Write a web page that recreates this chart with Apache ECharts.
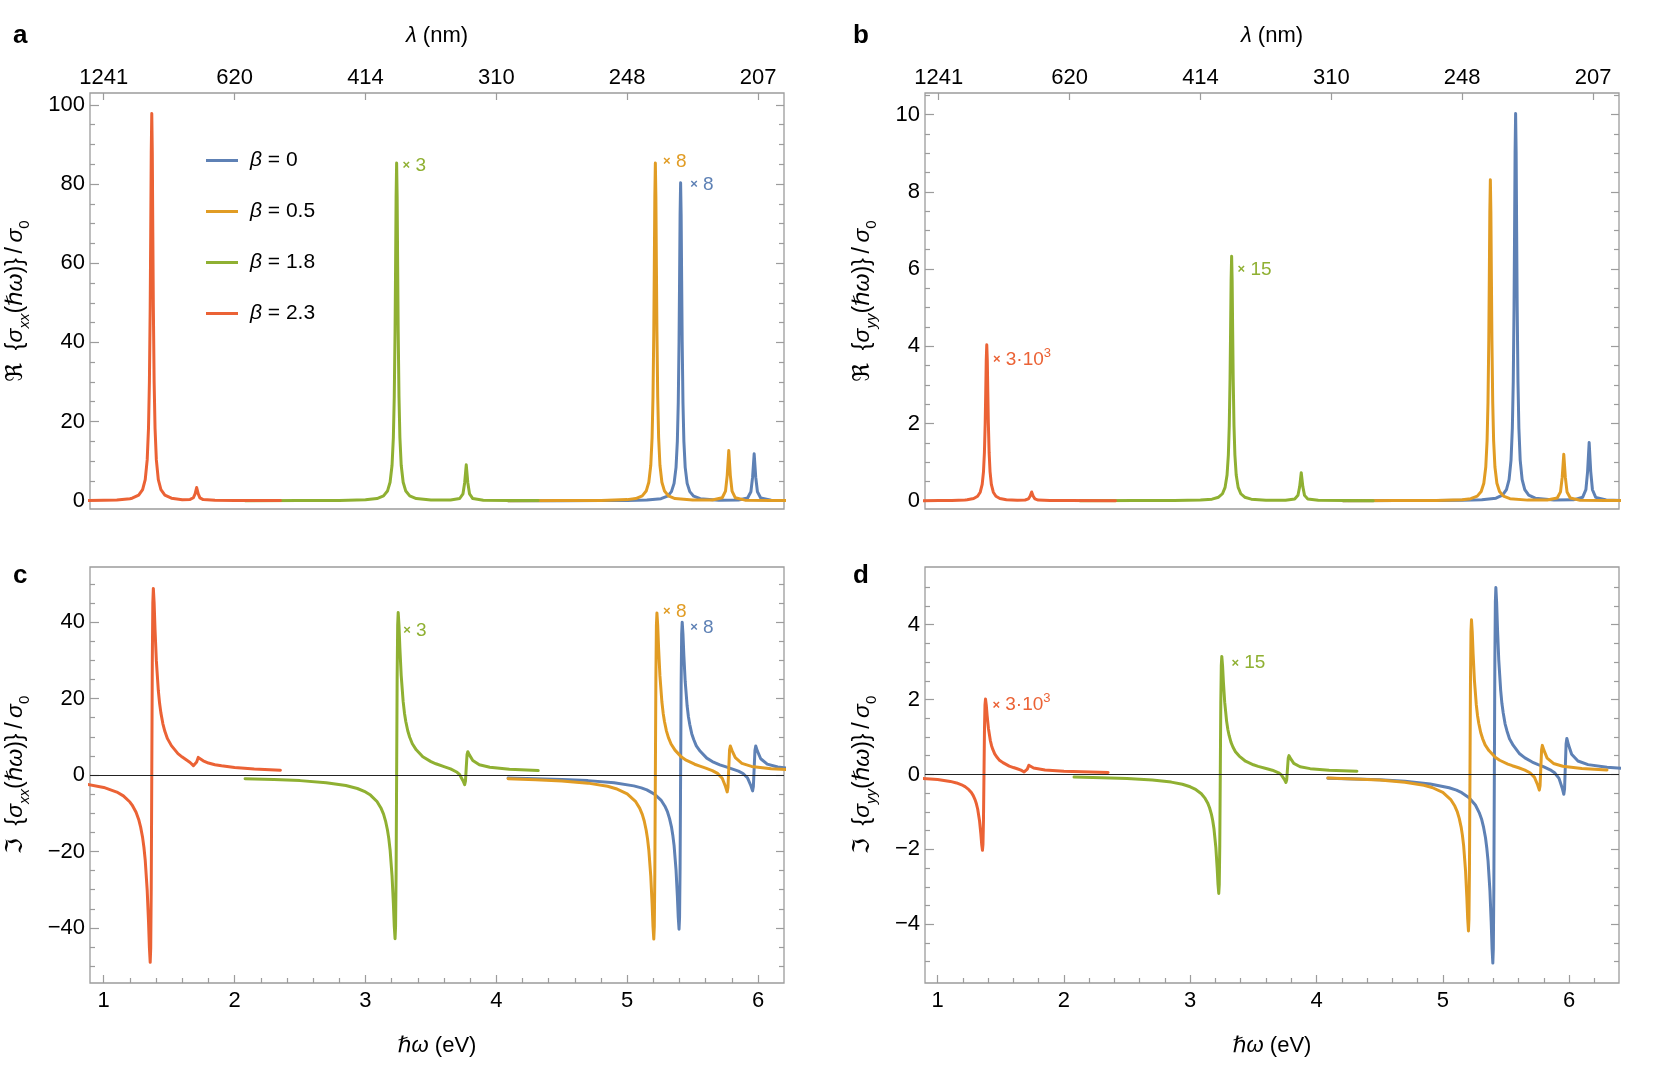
<!DOCTYPE html>
<html>
<head>
<meta charset="utf-8">
<script src="https://cdn.jsdelivr.net/npm/echarts@6/dist/echarts.min.js"></script>
<style>
  html, body { margin: 0; padding: 0; background: #fff; }
  #main { width: 1661px; height: 1078px; }
</style>
</head>
<body>
<div id="main"></div>
<script>
// ---- data ----
var names = ['β = 0', 'β = 0.5', 'β = 1.8', 'β = 2.3'];
var colors = ['#5E81B5', '#E19C24', '#8FB032', '#EB6235'];

// axis ticks
var energyTicks = [1, 2, 3, 4, 5, 6];
var energyMinor = [1.2, 1.4, 1.6, 1.8, 2.2, 2.4, 2.6, 2.8, 3.2, 3.4, 3.6, 3.8, 4.2, 4.4, 4.6, 4.8, 5.2, 5.4, 5.6, 5.8, 6.2];
var lambdaLabels = ['1241', '620', '414', '310', '248', '207'];
var reXxTicks = [0, 20, 40, 60, 80, 100];
var reXxMinor = [5, 10, 15, 25, 30, 35, 45, 50, 55, 65, 70, 75, 85, 90, 95];
var reYyTicks = [0, 2, 4, 6, 8, 10];
var reYyMinor = [0.5, 1, 1.5, 2.5, 3, 3.5, 4.5, 5, 5.5, 6.5, 7, 7.5, 8.5, 9, 9.5, 10.5];
var imXxTicks = [-40, -20, 0, 20, 40];
var imXxMinor = [-50, -45, -35, -30, -25, -15, -10, -5, 5, 10, 15, 25, 30, 35, 45, 50];
var imYyTicks = [-4, -2, 0, 2, 4];
var imYyMinor = [-5, -4.5, -3.5, -3, -2.5, -1.5, -1, -0.5, 0.5, 1, 1.5, 2.5, 3, 3.5, 4.5, 5];

// panel a: Re sigma_xx
var reXxB0 = [[4.09,0.01],[4.5,0.01],[4.8,0.03],[5.0,0.07],[5.15,0.17],[5.258,0.51],[5.308,1.14],[5.338,2.29],[5.358,4.38],[5.373,8.43],[5.383,15.0],[5.39,24.7],[5.396,40.15],[5.4,55.6],[5.404,72.3],[5.408,80.3],[5.412,72.3],[5.416,55.6],[5.42,40.15],[5.426,24.7],[5.433,15.0],[5.443,8.43],[5.458,4.38],[5.478,2.29],[5.508,1.14],[5.558,0.51],[5.7,0.14],[5.85,0.18],[5.92,0.69],[5.945,2.26],[5.958,5.95],[5.97,11.85],[5.982,5.95],[5.995,2.25],[6.02,0.68],[6.1,0.13],[6.25,0.04],[6.45,0.02]];
var reXxB05 = [[4.09,0.01],[4.5,0.02],[4.8,0.07],[5.0,0.27],[5.065,0.54],[5.115,1.21],[5.145,2.43],[5.165,4.65],[5.18,8.96],[5.19,15.95],[5.197,26.3],[5.203,42.65],[5.207,59.0],[5.211,76.8],[5.215,85.3],[5.219,76.8],[5.223,59.0],[5.227,42.65],[5.233,26.3],[5.24,15.95],[5.25,8.96],[5.265,4.65],[5.285,2.43],[5.315,1.21],[5.365,0.54],[5.5,0.15],[5.65,0.18],[5.726,0.74],[5.751,2.41],[5.764,6.35],[5.776,12.65],[5.788,6.35],[5.801,2.4],[5.826,0.73],[5.9,0.14],[6.1,0.03],[6.35,0.02]];
var reXxB18 = [[2.08,0.01],[2.5,0.02],[2.8,0.06],[3.0,0.22],[3.088,0.54],[3.138,1.21],[3.168,2.43],[3.188,4.65],[3.203,8.96],[3.213,15.95],[3.22,26.3],[3.226,42.65],[3.23,59.0],[3.234,76.8],[3.238,85.3],[3.242,76.8],[3.246,59.0],[3.25,42.65],[3.256,26.3],[3.263,15.95],[3.273,8.96],[3.288,4.65],[3.308,2.43],[3.338,1.21],[3.388,0.54],[3.5,0.18],[3.65,0.16],[3.72,0.55],[3.745,1.73],[3.758,4.55],[3.77,9.05],[3.782,4.55],[3.795,1.73],[3.82,0.53],[3.9,0.11],[4.1,0.03],[4.32,0.02]];
var reXxB23 = [[0.85,0.05],[1.0,0.1],[1.1,0.2],[1.2,0.5],[1.217,0.62],[1.267,1.39],[1.297,2.79],[1.317,5.33],[1.332,10.3],[1.342,18.3],[1.349,30.1],[1.355,48.9],[1.359,67.7],[1.363,88.0],[1.367,97.8],[1.371,88.0],[1.375,67.7],[1.379,48.9],[1.385,30.1],[1.392,18.3],[1.402,10.3],[1.417,5.33],[1.437,2.79],[1.467,1.39],[1.517,0.62],[1.6,0.26],[1.66,0.33],[1.685,0.74],[1.698,1.73],[1.71,3.32],[1.722,1.72],[1.735,0.71],[1.76,0.27],[1.85,0.08],[2.0,0.04],[2.35,0.02]];

// panel b: Re sigma_yy
var reYyB0 = [[4.09,0.001],[4.5,0.002],[4.8,0.004],[5.0,0.009],[5.15,0.022],[5.258,0.064],[5.308,0.142],[5.338,0.286],[5.358,0.547],[5.373,1.053],[5.383,1.876],[5.39,3.09],[5.396,5.015],[5.4,6.94],[5.404,9.03],[5.408,10.03],[5.412,9.03],[5.416,6.94],[5.42,5.015],[5.426,3.09],[5.433,1.876],[5.443,1.053],[5.458,0.547],[5.478,0.286],[5.508,0.142],[5.558,0.064],[5.7,0.017],[5.85,0.022],[5.92,0.088],[5.945,0.285],[5.958,0.755],[5.97,1.505],[5.982,0.755],[5.995,0.284],[6.02,0.086],[6.1,0.017],[6.25,0.005],[6.45,0.002]];
var reYyB05 = [[4.09,0.001],[4.5,0.002],[4.8,0.007],[5.0,0.026],[5.065,0.053],[5.115,0.118],[5.145,0.237],[5.165,0.453],[5.18,0.873],[5.19,1.554],[5.197,2.56],[5.203,4.155],[5.207,5.75],[5.211,7.48],[5.215,8.31],[5.219,7.48],[5.223,5.75],[5.227,4.155],[5.233,2.56],[5.24,1.554],[5.25,0.873],[5.265,0.453],[5.285,0.237],[5.315,0.118],[5.365,0.053],[5.5,0.015],[5.65,0.017],[5.726,0.07],[5.751,0.228],[5.764,0.603],[5.776,1.203],[5.788,0.603],[5.801,0.227],[5.826,0.068],[5.9,0.014],[6.1,0.003],[6.35,0.001]];
var reYyB18 = [[2.08,0.001],[2.5,0.002],[2.8,0.005],[3.0,0.016],[3.088,0.04],[3.138,0.09],[3.168,0.18],[3.188,0.345],[3.203,0.665],[3.213,1.184],[3.22,1.95],[3.226,3.165],[3.23,4.38],[3.234,5.7],[3.238,6.33],[3.242,5.7],[3.246,4.38],[3.25,3.165],[3.256,1.95],[3.263,1.184],[3.273,0.665],[3.288,0.345],[3.308,0.18],[3.338,0.09],[3.388,0.04],[3.5,0.013],[3.65,0.012],[3.72,0.043],[3.745,0.139],[3.758,0.364],[3.77,0.724],[3.782,0.364],[3.795,0.138],[3.82,0.042],[3.9,0.01],[4.1,0.002],[4.32,0.001]];
var reYyB23 = [[0.85,0.0],[1.0,0.004],[1.1,0.008],[1.2,0.021],[1.217,0.026],[1.267,0.057],[1.297,0.115],[1.317,0.22],[1.332,0.424],[1.342,0.755],[1.349,1.244],[1.355,2.02],[1.359,2.796],[1.363,3.636],[1.367,4.04],[1.371,3.636],[1.375,2.796],[1.379,2.02],[1.385,1.244],[1.392,0.755],[1.402,0.424],[1.417,0.22],[1.437,0.115],[1.467,0.057],[1.517,0.026],[1.6,0.011],[1.66,0.019],[1.685,0.047],[1.698,0.115],[1.71,0.225],[1.722,0.115],[1.735,0.046],[1.76,0.016],[1.85,0.004],[2.0,0.002],[2.35,0.001]];

// panel c: Im sigma_xx
var imXxB0 = [[4.09,-0.81],[4.3,-0.96],[4.5,-1.16],[4.7,-1.47],[4.9,-2.03],[5.05,-2.84],[5.108,-3.37],[5.15,-3.9],[5.208,-4.99],[5.258,-6.55],[5.288,-8.16],[5.308,-9.66],[5.323,-11.33],[5.338,-13.55],[5.348,-15.67],[5.358,-18.41],[5.373,-24.83],[5.383,-31.5],[5.39,-37.24],[5.396,-40.33],[5.4,-37.24],[5.404,-24.27],[5.408,-0.19],[5.412,23.9],[5.416,36.87],[5.42,39.96],[5.426,36.87],[5.433,31.13],[5.443,24.46],[5.458,18.04],[5.468,15.16],[5.478,13.18],[5.493,10.81],[5.508,9.29],[5.528,7.63],[5.558,6.19],[5.608,4.41],[5.65,3.53],[5.708,2.66],[5.75,2.18],[5.8,1.62],[5.85,1.01],[5.885,0.39],[5.92,-0.8],[5.945,-2.81],[5.958,-4.15],[5.964,-2.98],[5.97,1.72],[5.976,6.42],[5.982,7.59],[5.995,6.24],[6.02,4.25],[6.07,2.85],[6.15,2.09],[6.3,1.51],[6.45,1.22]];
var imXxB05 = [[4.09,-1.0],[4.3,-1.22],[4.5,-1.55],[4.7,-2.13],[4.85,-2.96],[4.915,-3.58],[5.0,-4.94],[5.015,-5.3],[5.065,-6.99],[5.095,-8.66],[5.115,-10.3],[5.13,-12.04],[5.145,-14.44],[5.155,-16.64],[5.165,-19.61],[5.18,-26.44],[5.19,-33.53],[5.197,-39.63],[5.203,-42.91],[5.207,-39.63],[5.211,-25.85],[5.215,-0.27],[5.219,25.32],[5.223,39.1],[5.227,42.38],[5.233,39.1],[5.24,33.0],[5.25,25.92],[5.265,19.09],[5.275,16.1],[5.285,13.92],[5.3,11.49],[5.315,9.78],[5.335,8.1],[5.365,6.5],[5.415,4.68],[5.45,3.88],[5.515,2.82],[5.55,2.39],[5.6,1.8],[5.65,1.16],[5.69,0.42],[5.726,-0.86],[5.751,-3.0],[5.764,-4.43],[5.77,-3.19],[5.776,1.83],[5.782,6.6],[5.788,7.6],[5.801,6.4],[5.826,4.54],[5.876,3.04],[5.95,2.25],[6.1,1.63],[6.35,1.16]];
var imXxB18 = [[2.08,-0.95],[2.3,-1.16],[2.5,-1.47],[2.7,-2.0],[2.85,-2.76],[2.938,-3.53],[3.0,-4.43],[3.038,-5.25],[3.088,-6.94],[3.118,-8.61],[3.138,-10.24],[3.153,-11.98],[3.168,-14.37],[3.178,-16.58],[3.188,-19.54],[3.203,-26.37],[3.213,-33.45],[3.22,-39.55],[3.226,-42.83],[3.23,-39.55],[3.234,-25.77],[3.238,-0.18],[3.242,25.4],[3.246,39.2],[3.25,42.47],[3.256,39.19],[3.263,33.09],[3.273,26.0],[3.288,19.17],[3.298,16.17],[3.308,14.0],[3.323,11.57],[3.338,9.87],[3.358,8.18],[3.388,6.58],[3.438,4.77],[3.5,3.5],[3.538,2.94],[3.6,2.2],[3.65,1.59],[3.7,0.71],[3.72,0.08],[3.745,-1.49],[3.758,-2.53],[3.764,-1.64],[3.77,1.95],[3.776,5.3],[3.782,6.1],[3.795,5.2],[3.82,3.8],[3.87,2.68],[3.95,2.04],[4.1,1.52],[4.32,1.15]];
var imXxB23 = [[0.85,-2.32],[1.0,-3.25],[1.1,-4.46],[1.15,-5.46],[1.2,-7.07],[1.217,-7.86],[1.247,-9.76],[1.267,-11.63],[1.282,-13.63],[1.297,-16.37],[1.307,-18.9],[1.317,-22.3],[1.332,-30.1],[1.342,-38.2],[1.349,-45.2],[1.355,-49.0],[1.359,-45.2],[1.363,-29.4],[1.367,-0.1],[1.371,29.2],[1.375,45.0],[1.379,48.8],[1.385,45.0],[1.392,38.0],[1.402,29.9],[1.417,22.1],[1.427,18.68],[1.437,16.18],[1.452,13.39],[1.467,11.44],[1.487,9.51],[1.517,7.68],[1.567,5.58],[1.6,4.68],[1.63,3.98],[1.66,3.27],[1.685,2.44],[1.698,1.94],[1.71,3.42],[1.722,4.6],[1.735,4.3],[1.76,3.72],[1.8,3.13],[1.85,2.7],[1.9,2.4],[2.0,1.98],[2.15,1.59],[2.35,1.25]];

// panel d: Im sigma_yy
var imYyB0 = [[4.09,-0.101],[4.3,-0.12],[4.5,-0.145],[4.7,-0.184],[4.9,-0.253],[5.05,-0.355],[5.108,-0.421],[5.15,-0.487],[5.208,-0.624],[5.258,-0.817],[5.288,-1.019],[5.308,-1.206],[5.323,-1.415],[5.338,-1.692],[5.348,-1.958],[5.358,-2.3],[5.373,-3.102],[5.383,-3.935],[5.39,-4.652],[5.396,-5.038],[5.4,-4.652],[5.404,-3.032],[5.408,-0.023],[5.412,2.986],[5.416,4.606],[5.42,4.992],[5.426,4.606],[5.433,3.889],[5.443,3.056],[5.458,2.254],[5.468,1.893],[5.478,1.647],[5.493,1.351],[5.508,1.161],[5.528,0.953],[5.558,0.774],[5.608,0.551],[5.65,0.441],[5.708,0.331],[5.75,0.27],[5.8,0.202],[5.85,0.123],[5.885,0.044],[5.92,-0.105],[5.945,-0.361],[5.958,-0.531],[5.964,-0.383],[5.97,0.214],[5.976,0.812],[5.982,0.961],[5.995,0.791],[6.02,0.537],[6.07,0.359],[6.15,0.262],[6.3,0.19],[6.45,0.153]];
var imYyB05 = [[4.09,-0.097],[4.3,-0.119],[4.5,-0.15],[4.7,-0.207],[4.85,-0.289],[4.915,-0.349],[5.0,-0.48],[5.015,-0.516],[5.065,-0.681],[5.095,-0.844],[5.115,-1.002],[5.13,-1.172],[5.145,-1.406],[5.155,-1.621],[5.165,-1.909],[5.18,-2.575],[5.19,-3.266],[5.197,-3.86],[5.203,-4.18],[5.207,-3.86],[5.211,-2.518],[5.215,-0.026],[5.219,2.468],[5.223,3.81],[5.227,4.13],[5.233,3.81],[5.24,3.217],[5.25,2.527],[5.265,1.862],[5.275,1.569],[5.285,1.361],[5.3,1.12],[5.315,0.958],[5.335,0.79],[5.365,0.638],[5.415,0.457],[5.45,0.379],[5.515,0.277],[5.55,0.233],[5.6,0.178],[5.65,0.116],[5.69,0.046],[5.726,-0.077],[5.751,-0.282],[5.764,-0.418],[5.77,-0.3],[5.776,0.178],[5.782,0.657],[5.788,0.776],[5.801,0.641],[5.826,0.435],[5.876,0.293],[5.95,0.218],[6.1,0.157],[6.3,0.119]];
var imYyB18 = [[2.08,-0.071],[2.3,-0.087],[2.5,-0.11],[2.7,-0.149],[2.85,-0.205],[2.938,-0.263],[3.0,-0.33],[3.038,-0.391],[3.088,-0.515],[3.118,-0.64],[3.138,-0.76],[3.153,-0.89],[3.168,-1.067],[3.178,-1.231],[3.188,-1.45],[3.203,-1.956],[3.213,-2.482],[3.22,-2.934],[3.226,-3.178],[3.23,-2.934],[3.234,-1.912],[3.238,-0.013],[3.242,1.886],[3.246,2.908],[3.25,3.152],[3.256,2.908],[3.263,2.456],[3.273,1.93],[3.288,1.424],[3.298,1.199],[3.308,1.041],[3.323,0.857],[3.338,0.734],[3.358,0.606],[3.388,0.49],[3.438,0.353],[3.5,0.258],[3.538,0.216],[3.6,0.16],[3.65,0.113],[3.7,0.044],[3.72,-0.005],[3.745,-0.131],[3.758,-0.214],[3.764,-0.142],[3.77,0.145],[3.776,0.432],[3.782,0.503],[3.795,0.422],[3.82,0.294],[3.87,0.205],[3.95,0.155],[4.1,0.114],[4.32,0.086]];
var imYyB23 = [[0.85,-0.097],[1.0,-0.135],[1.1,-0.186],[1.15,-0.228],[1.2,-0.294],[1.217,-0.326],[1.247,-0.406],[1.267,-0.483],[1.282,-0.565],[1.297,-0.679],[1.307,-0.784],[1.317,-0.923],[1.332,-1.246],[1.342,-1.582],[1.349,-1.87],[1.355,-2.026],[1.359,-1.87],[1.363,-1.218],[1.367,-0.006],[1.371,1.206],[1.375,1.858],[1.379,2.014],[1.385,1.858],[1.392,1.57],[1.402,1.234],[1.417,0.911],[1.427,0.768],[1.437,0.667],[1.452,0.549],[1.467,0.471],[1.487,0.388],[1.517,0.315],[1.567,0.223],[1.6,0.184],[1.63,0.152],[1.66,0.115],[1.685,0.066],[1.698,0.036],[1.71,0.141],[1.722,0.246],[1.735,0.217],[1.76,0.173],[1.85,0.118],[2.0,0.086],[2.35,0.053]];

// ---- layout / style ----
var FONT = '"Liberation Sans", Arial, "DejaVu Sans", sans-serif';
var GRAY = '#9c9c9c';

function yName(part, sub) {
  return '{r|' + part + '}  {' + '{i|σ}{s|' + sub + '}(' + '{i|ℏω})}\u2009/\u2009{i|σ}{z|0}';
}
var nameStyle = {
  fontSize: 23, fontFamily: FONT, color: '#000', lineHeight: 32,
  rich: {
    r: { fontSize: 23, fontFamily: '"DejaVu Sans"', lineHeight: 32, color: '#000' },
    i: { fontSize: 23, fontFamily: FONT, fontStyle: 'italic', lineHeight: 32, color: '#000' },
    s: { fontSize: 15, fontFamily: FONT, fontStyle: 'italic', verticalAlign: 'bottom', lineHeight: 18, color: '#000' },
    z: { fontSize: 15, fontFamily: FONT, verticalAlign: 'bottom', lineHeight: 18, color: '#000' }
  }
};
var xNameStyle = {
  fontSize: 22, fontFamily: FONT, color: '#000',
  rich: { i: { fontSize: 22, fontFamily: FONT, fontStyle: 'italic', color: '#000' } }
};

var panels = [
  { letter: 'a', box: [90, 93, 694, 416], x: [0.895, 6.198], y: [-2.1, 103.0],
    ticks: reXxTicks, minor: reXxMinor, name: yName('ℜ', 'xx'), nameGap: 58, energy: false,
    data: [reXxB0, reXxB05, reXxB18, reXxB23],
    notes: [{ s: 2, at: [3.28, 84.6], t: '3' }, { s: 1, at: [5.27, 85.7], t: '8' }, { s: 0, at: [5.477, 79.8], t: '8' }] },
  { letter: 'b', box: [925, 93, 694, 416], x: [0.895, 6.198], y: [-0.215, 10.56],
    ticks: reYyTicks, minor: reYyMinor, name: yName('ℜ', 'yy'), nameGap: 46, energy: false,
    data: [reYyB0, reYyB05, reYyB18, reYyB23],
    notes: [{ s: 3, at: [1.41, 3.65], t: '3·10', sup: '3' }, { s: 2, at: [3.28, 5.98], t: '15' }] },
  { letter: 'c', box: [90, 567, 694, 416], x: [0.895, 6.198], y: [-54.4, 54.4],
    ticks: imXxTicks, minor: imXxMinor, name: yName('ℑ', 'xx'), nameGap: 58, energy: true,
    data: [imXxB0, imXxB05, imXxB18, imXxB23],
    notes: [{ s: 2, at: [3.284, 37.7], t: '3' }, { s: 1, at: [5.27, 42.7], t: '8' }, { s: 0, at: [5.477, 38.5], t: '8' }] },
  { letter: 'd', box: [925, 567, 694, 416], x: [0.9, 6.395], y: [-5.57, 5.54],
    ticks: imYyTicks, minor: imYyMinor, name: yName('ℑ', 'yy'), nameGap: 46, energy: true,
    data: [imYyB0, imYyB05, imYyB18, imYyB23],
    notes: [{ s: 3, at: [1.43, 1.85], t: '3·10', sup: '3' }, { s: 2, at: [3.322, 2.97], t: '15' }] }
];

function numLabel(v) {
  return v < 0 ? '−' + String(-v) : String(v);
}

var grids = [], xAxes = [], yAxes = [], series = [], graphics = [];

panels.forEach(function (p, gi) {
  grids.push({
    left: p.box[0], top: p.box[1], width: p.box[2], height: p.box[3],
    show: true, borderColor: GRAY, borderWidth: 1.3, backgroundColor: 'transparent',
    containLabel: false, outerBoundsMode: 'none'
  });

  var xBase = xAxes.length;
  var tickLine = { color: GRAY, width: 1.2 };
  xAxes.push({
    gridIndex: gi, type: 'value', min: p.x[0], max: p.x[1], position: 'bottom',
    axisLine: { show: false, onZero: false }, splitLine: { show: false },
    axisTick: p.energy ? { show: true, inside: true, length: 8, customValues: energyTicks, lineStyle: tickLine } : { show: false },
    axisLabel: p.energy ? { show: true, customValues: energyTicks, margin: 7, fontSize: 22, fontFamily: FONT, color: '#000' } : { show: false },
    name: p.energy ? '{i|ℏω} (eV)' : '', nameLocation: 'middle', nameGap: 52, nameTextStyle: xNameStyle
  });
  if (p.energy) {
    xAxes.push({
      gridIndex: gi, type: 'value', min: p.x[0], max: p.x[1], position: 'bottom',
      axisLine: { show: false, onZero: false }, splitLine: { show: false },
      axisTick: { show: true, inside: true, length: 5, customValues: energyMinor, lineStyle: tickLine },
      axisLabel: { show: false }
    });
  } else {
    xAxes.push({
      gridIndex: gi, type: 'value', min: p.x[0], max: p.x[1], position: 'top',
      axisLine: { show: false, onZero: false }, splitLine: { show: false },
      axisTick: { show: true, inside: true, length: 7, customValues: energyTicks, lineStyle: tickLine },
      axisLabel: {
        show: true, customValues: energyTicks, margin: 4, fontSize: 22, fontFamily: FONT, color: '#000',
        formatter: function (v) { return lambdaLabels[energyTicks.indexOf(Math.round(v))]; }
      },
      name: '{i|λ} (nm)', nameLocation: 'middle', nameGap: 46, nameTextStyle: xNameStyle
    });
  }

  var yBase = yAxes.length;
  var yCommon = { gridIndex: gi, type: 'value', min: p.y[0], max: p.y[1], axisLine: { show: false, onZero: false }, splitLine: { show: false } };
  yAxes.push(Object.assign({}, yCommon, {
    position: 'left',
    axisTick: { show: true, inside: true, length: 9, customValues: p.ticks, lineStyle: tickLine },
    axisLabel: { show: true, customValues: p.ticks, margin: 5, fontSize: 22, fontFamily: FONT, color: '#000', formatter: numLabel },
    name: p.name, nameLocation: 'middle', nameRotate: 90, nameGap: p.nameGap, nameTextStyle: nameStyle
  }));
  yAxes.push(Object.assign({}, yCommon, {
    position: 'left',
    axisTick: { show: true, inside: true, length: 5, customValues: p.minor, lineStyle: tickLine },
    axisLabel: { show: false }
  }));
  yAxes.push(Object.assign({}, yCommon, {
    position: 'right',
    axisTick: { show: true, inside: true, length: 8, customValues: p.ticks, lineStyle: tickLine },
    axisLabel: { show: false }
  }));
  yAxes.push(Object.assign({}, yCommon, {
    position: 'right',
    axisTick: { show: true, inside: true, length: 5, customValues: p.minor, lineStyle: tickLine },
    axisLabel: { show: false }
  }));

  p.data.forEach(function (d, si) {
    var s = {
      name: names[si], type: 'line', xAxisIndex: xBase, yAxisIndex: yBase,
      data: d, showSymbol: false, symbol: 'none', smooth: false, clip: true,
      lineStyle: { color: colors[si], width: 3, join: 'round', cap: 'round' },
      itemStyle: { color: colors[si] },
      emphasis: { disabled: true }, silent: true
    };
    var notes = p.notes.filter(function (n) { return n.s === si; });
    if (notes.length) {
      s.markPoint = {
        symbol: 'circle', symbolSize: 1, silent: true,
        itemStyle: { color: 'rgba(0,0,0,0)' },
        data: notes.map(function (n) {
          return {
            coord: n.at,
            label: {
              show: true, position: 'right', distance: 0, color: colors[si],
              formatter: '{x|×}{n| ' + n.t + '}' + (n.sup ? '{p|' + n.sup + '}' : ''),
              rich: {
                x: { fontSize: 13, fontFamily: FONT, fontWeight: 'bold', color: colors[si], lineHeight: 26 },
                n: { fontSize: 19, fontFamily: FONT, color: colors[si], lineHeight: 26 },
                p: { fontSize: 13, fontFamily: FONT, color: colors[si], verticalAlign: 'top', lineHeight: 13 }
              }
            }
          };
        })
      };
    }
    if (si === 0 && p.energy) {
      s.markLine = {
        silent: true, symbol: ['none', 'none'], label: { show: false },
        lineStyle: { color: '#222', width: 1, type: 'solid' },
        data: [{ yAxis: 0 }]
      };
    }
    series.push(s);
  });

  graphics.push({
    type: 'text', left: gi % 2 === 0 ? 13 : 853, top: gi < 2 ? 23 : 563,
    style: { text: p.letter, font: 'bold 26px "Liberation Sans", Arial, sans-serif', fill: '#000' }
  });
});

var chart = echarts.init(document.getElementById('main'), null, { renderer: 'canvas' });
chart.setOption({
  backgroundColor: '#fff',
  animation: false,
  grid: grids,
  xAxis: xAxes,
  yAxis: yAxes,
  legend: {
    data: names, orient: 'vertical', left: 201, top: 145,
    icon: 'rect', itemWidth: 32, itemHeight: 3, itemGap: 30, selectedMode: false,
    textStyle: {
      fontSize: 21, fontFamily: FONT, color: '#000',
      rich: {
        g: { width: 7, fontSize: 21 },
        i: { fontSize: 21, fontFamily: FONT, fontStyle: 'italic', color: '#000' }
      }
    },
    formatter: function (name) { return '{g| }' + name.replace('β', '{i|β}'); }
  },
  graphic: graphics,
  series: series
});
</script>
</body>
</html>
